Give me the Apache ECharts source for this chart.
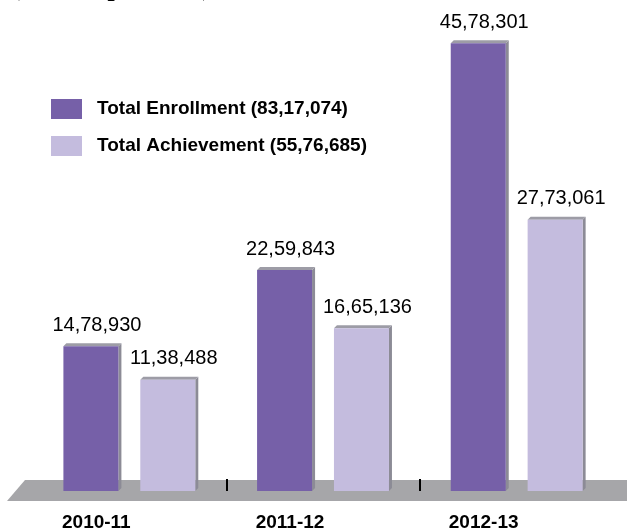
<!DOCTYPE html>
<html>
<head>
<meta charset="utf-8">
<style>
  html, body { margin: 0; padding: 0; background: #ffffff; }
  #chart { width: 627px; height: 532px; }
</style>
<script src="https://cdn.jsdelivr.net/npm/echarts@6/dist/echarts.min.js"></script>
</head>
<body>
<div id="chart"></div>
<script>
// Academic years on the x axis
const years = ['2010-11', '2011-12', '2012-13'];
// Enrollment and achievement per year (persons)
const enrollment = [1478930, 2259843, 4578301];
const achievement = [1138488, 1665136, 2773061];
// Legend captions with the totals
const enrollmentName = 'Total Enrollment (83,17,074)';
const achievementName = 'Total Achievement (55,76,685)';
const unitNote = '(No. of persons)';

const SANS = '"Liberation Sans", Arial, sans-serif';

// Indian digit grouping: 14,78,930
function formatIndian(n) {
  const s = String(n);
  if (s.length <= 3) return s;
  const last3 = s.slice(-3);
  let rest = s.slice(0, -3);
  const parts = [];
  while (rest.length > 2) { parts.unshift(rest.slice(-2)); rest = rest.slice(0, -2); }
  if (rest.length) parts.unshift(rest);
  return parts.join(',') + ',' + last3;
}

// A bar drawn as a shallow box: front face, right side and top bevel.
// The first series also marks the boundary between year groups.
function boxRenderer(offsetFrac, frontColor, withDivider) {
  return function (params, api) {
    const cat = api.value(0);
    const val = api.value(1);
    const base = api.coord([cat, 0]);
    const top = api.coord([cat, val]);
    const band = api.size([1, 0])[0];
    const w = band * 0.284;
    const d = 3;
    const x0 = base[0] + band * offsetFrac;
    const x1 = x0 + w;
    const y0 = top[1];
    const y1 = base[1];
    const children = [
      { type: 'polygon', shape: { points: [[x1, y0], [x1 + d, y0 - d], [x1 + d, y1 - d], [x1, y1]] },
        style: { fill: '#8c8b96' } },
      { type: 'polygon', shape: { points: [[x0, y0], [x0 + d, y0 - d], [x1 + d, y0 - d], [x1, y0]] },
        style: { fill: '#9d9ca6' } },
      { type: 'rect', shape: { x: x0, y: y0, width: w, height: y1 - y0 },
        style: { fill: frontColor } },
      { type: 'text', style: {
          text: formatIndian(val), x: (x0 + x1) / 2 + 6, y: y0 - 11,
          align: 'center', verticalAlign: 'bottom',
          font: '20px ' + SANS, fill: '#000000' } }
    ];
    if (withDivider && cat > 0) {
      const bx = Math.round(base[0] - band / 2);
      children.push({ type: 'line', shape: { x1: bx, y1: y1 - 12, x2: bx, y2: y1 },
        style: { stroke: '#000000', lineWidth: 2 } });
    }
    return { type: 'group', children: children };
  };
}

const chart = echarts.init(document.getElementById('chart'), null, { renderer: 'canvas' });

chart.setOption({
  animation: false,
  backgroundColor: '#ffffff',
  graphic: [
    // floor plane under the bars
    { type: 'polygon', z: 0, shape: { points: [[25, 480], [627, 480], [627, 501], [7, 501]] },
      style: { fill: '#a6a6a9' } },
    // unit note at the top, mostly above the visible area
    { type: 'text', left: 10, top: -30, z: 10,
      style: { text: unitNote, font: '31px "Liberation Serif", "Times New Roman", serif', fill: '#000000' } }
  ],
  legend: {
    orient: 'vertical',
    left: 51,
    top: 99,
    padding: 0,
    itemWidth: 31,
    itemHeight: 20,
    itemGap: 17,
    icon: 'rect',
    textStyle: { fontFamily: SANS, fontWeight: 'bold', fontSize: 19, color: '#000000', padding: [0, 0, 0, 10] },
    data: [enrollmentName, achievementName]
  },
  grid: { left: 33, right: 13, top: 2, bottom: 41 },
  xAxis: {
    type: 'category',
    data: years,
    boundaryGap: true,
    axisLine: { show: false },
    axisTick: { show: false },
    axisLabel: {
      margin: 22,
      fontFamily: SANS, fontWeight: 'bold', fontSize: 19, color: '#000000',
      padding: [0, 67, 0, 0]
    },
    z: 5
  },
  yAxis: {
    type: 'value', min: 0, max: 5000000,
    show: false,
    splitLine: { show: false }
  },
  series: [
    {
      name: enrollmentName,
      type: 'custom',
      itemStyle: { color: '#7660a8' },
      renderItem: boxRenderer(-0.343, '#7660a8', true),
      encode: { x: 0, y: 1 },
      data: enrollment.map((v, i) => [i, v]),
      z: 3
    },
    {
      name: achievementName,
      type: 'custom',
      itemStyle: { color: '#c4bcde' },
      renderItem: boxRenderer(0.054, '#c4bcde', false),
      encode: { x: 0, y: 1 },
      data: achievement.map((v, i) => [i, v]),
      z: 3
    }
  ]
});
</script>
</body>
</html>
